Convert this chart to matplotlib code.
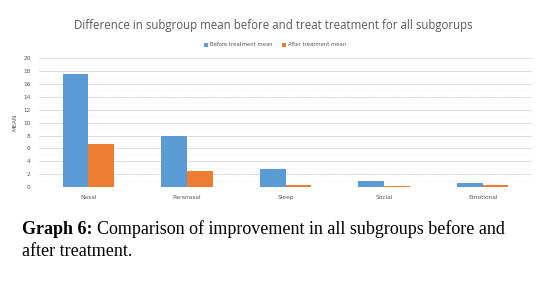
import matplotlib.pyplot as plt
import numpy as np

categories = ["Nasal", "Paranasal", "Sleep", "Social", "Emotional"]
before_mean = [17.5, 7.85, 2.75, 1.0, 0.55]
after_mean = [6.65, 2.55, 0.3, 0.15, 0.25]
y_ticks = list(range(0, 21, 2))

blue = "#5b9bd5"
orange = "#ed7d31"
gray_text = "#595959"

fig = plt.figure(figsize=(5.46, 2.84), dpi=100)
ax = fig.add_axes([39 / 546, 1 - 187 / 284, (532 - 39) / 546, (187 - 58.3) / 284])

x = np.arange(len(categories))
w = 0.26
ax.bar(x - w / 2, before_mean, w, color=blue, label="Before treatment mean", zorder=3)
ax.bar(x + w / 2, after_mean, w, color=orange, label="After treatment mean", zorder=3)

ax.set_xlim(-0.5, len(categories) - 0.5)
ax.set_ylim(0, 20)
ax.set_yticks(y_ticks)
ax.set_yticks(range(1, 20, 2), minor=True)
ax.set_xticks(x)
ax.set_xticklabels(categories)
ax.tick_params(axis="both", length=0, labelsize=4.2, colors=gray_text, pad=6)
ax.tick_params(axis="y", which="minor", length=0)
ax.grid(axis="y", which="major", color="#d9d9d9", linewidth=0.6, zorder=0)
ax.grid(axis="y", which="minor", color="#e6e0ee", linewidth=0.5, linestyle=":", zorder=0)
for s in ax.spines.values():
    s.set_visible(False)
ax.set_ylabel("MEAN", fontsize=4.2, color=gray_text, labelpad=4)

fig.text(0.5, 1 - 25 / 284, "Difference in subgroup mean before and treat treatment for all subgorups",
         ha="center", va="center", fontsize=8.3, color="#5a5a5a", family="Open Sans")
fig.legend(loc="center", bbox_to_anchor=(275 / 546, 1 - 45 / 284), ncol=2, frameon=False,
           fontsize=3.8, handlelength=0.7, handleheight=0.7, columnspacing=1.8, handletextpad=0.4,
           labelcolor=gray_text)

# caption below the chart, bold label then regular text
t1 = fig.text(22 / 546, 1 - 229 / 284, "Graph 6:", fontsize=13, fontweight="bold",
              family="Liberation Serif", va="center", ha="left")
fig.canvas.draw()
bb = t1.get_window_extent()
fig.text(bb.x1 / 546 + 0.008, 1 - 229 / 284,
         "Comparison of improvement in all subgroups before and",
         fontsize=13, family="Liberation Serif", va="center", ha="left")
fig.text(22 / 546, 1 - 251 / 284, "after treatment.", fontsize=13,
         family="Liberation Serif", va="center", ha="left")

fig.savefig("out.png", dpi=100)
